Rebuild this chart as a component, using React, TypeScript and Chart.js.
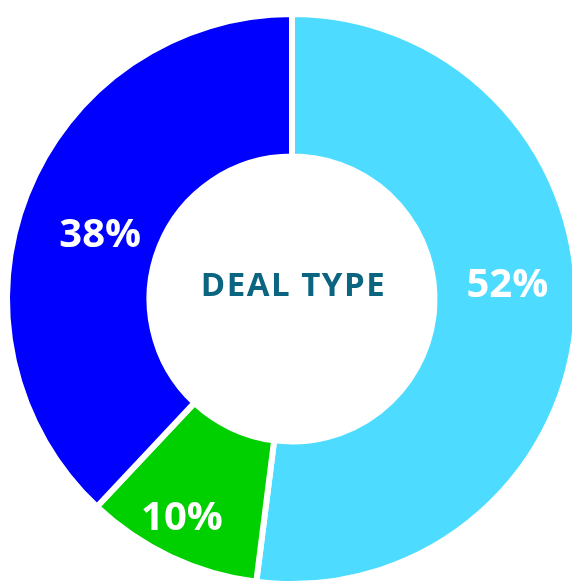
import React, { useEffect, useRef } from "react";
import { Chart, registerables } from "chart.js";

Chart.register(...registerables);

const categories = ["Type A", "Type B", "Type C"];
const values = [52, 10, 38];
const labels = ["52%", "10%", "38%"];
const colors = ["#4DDCFF", "#00D000", "#0000FF"];
const centerTitle = "DEAL TYPE";

// label nudges (style only), px relative to arc centre point
const nudges: [number, number][] = [
  [2, -30],
  [-19, 23],
  [7, 12],
];

const labelPlugin = {
  id: "pctLabels",
  afterDatasetsDraw(chart: any) {
    const ctx = chart.ctx;
    const meta = chart.getDatasetMeta(0);
    ctx.save();
    ctx.fillStyle = "#ffffff";
    ctx.font = "bold 40px 'Open Sans'";
    ctx.textAlign = "center";
    ctx.textBaseline = "alphabetic";
    meta.data.forEach((arc: any, i: number) => {
      const p = arc.getCenterPoint();
      const n = nudges[i] || [0, 0];
      ctx.fillText(labels[i], p.x + n[0], p.y + n[1] + 15);
    });
    const first = meta.data[0];
    ctx.fillStyle = "#0B6580";
    ctx.font = "bold 33px 'Open Sans'";
    (ctx as any).letterSpacing = "1.5px";
    ctx.fillText(centerTitle, first.x + 1.5, 297);
    ctx.restore();
  },
};

export default function App() {
  const ref = useRef<HTMLCanvasElement>(null);
  useEffect(() => {
    if (!ref.current) return;
    const chart = new Chart(ref.current, {
      type: "doughnut",
      data: {
        labels: categories,
        datasets: [
          {
            data: values,
            backgroundColor: colors,
            borderColor: "#ffffff",
            borderWidth: 6,
            hoverOffset: 0,
          },
        ],
      },
      options: {
        responsive: false,
        animation: false,
        cutout: "50%",
        layout: { padding: 12 },
        plugins: {
          legend: { display: false },
          tooltip: { enabled: false },
        },
      },
      plugins: [labelPlugin],
    });
    return () => chart.destroy();
  }, []);
  return (
    <div
      style={{
        position: "fixed",
        left: 0,
        top: 0,
        width: 572,
        height: 581,
        overflow: "hidden",
        background: "#fff",
      }}
    >
      <canvas
        ref={ref}
        width={600}
        height={600}
        style={{ position: "absolute", left: -8, top: -1, width: 600, height: 600 }}
      />
    </div>
  );
}
